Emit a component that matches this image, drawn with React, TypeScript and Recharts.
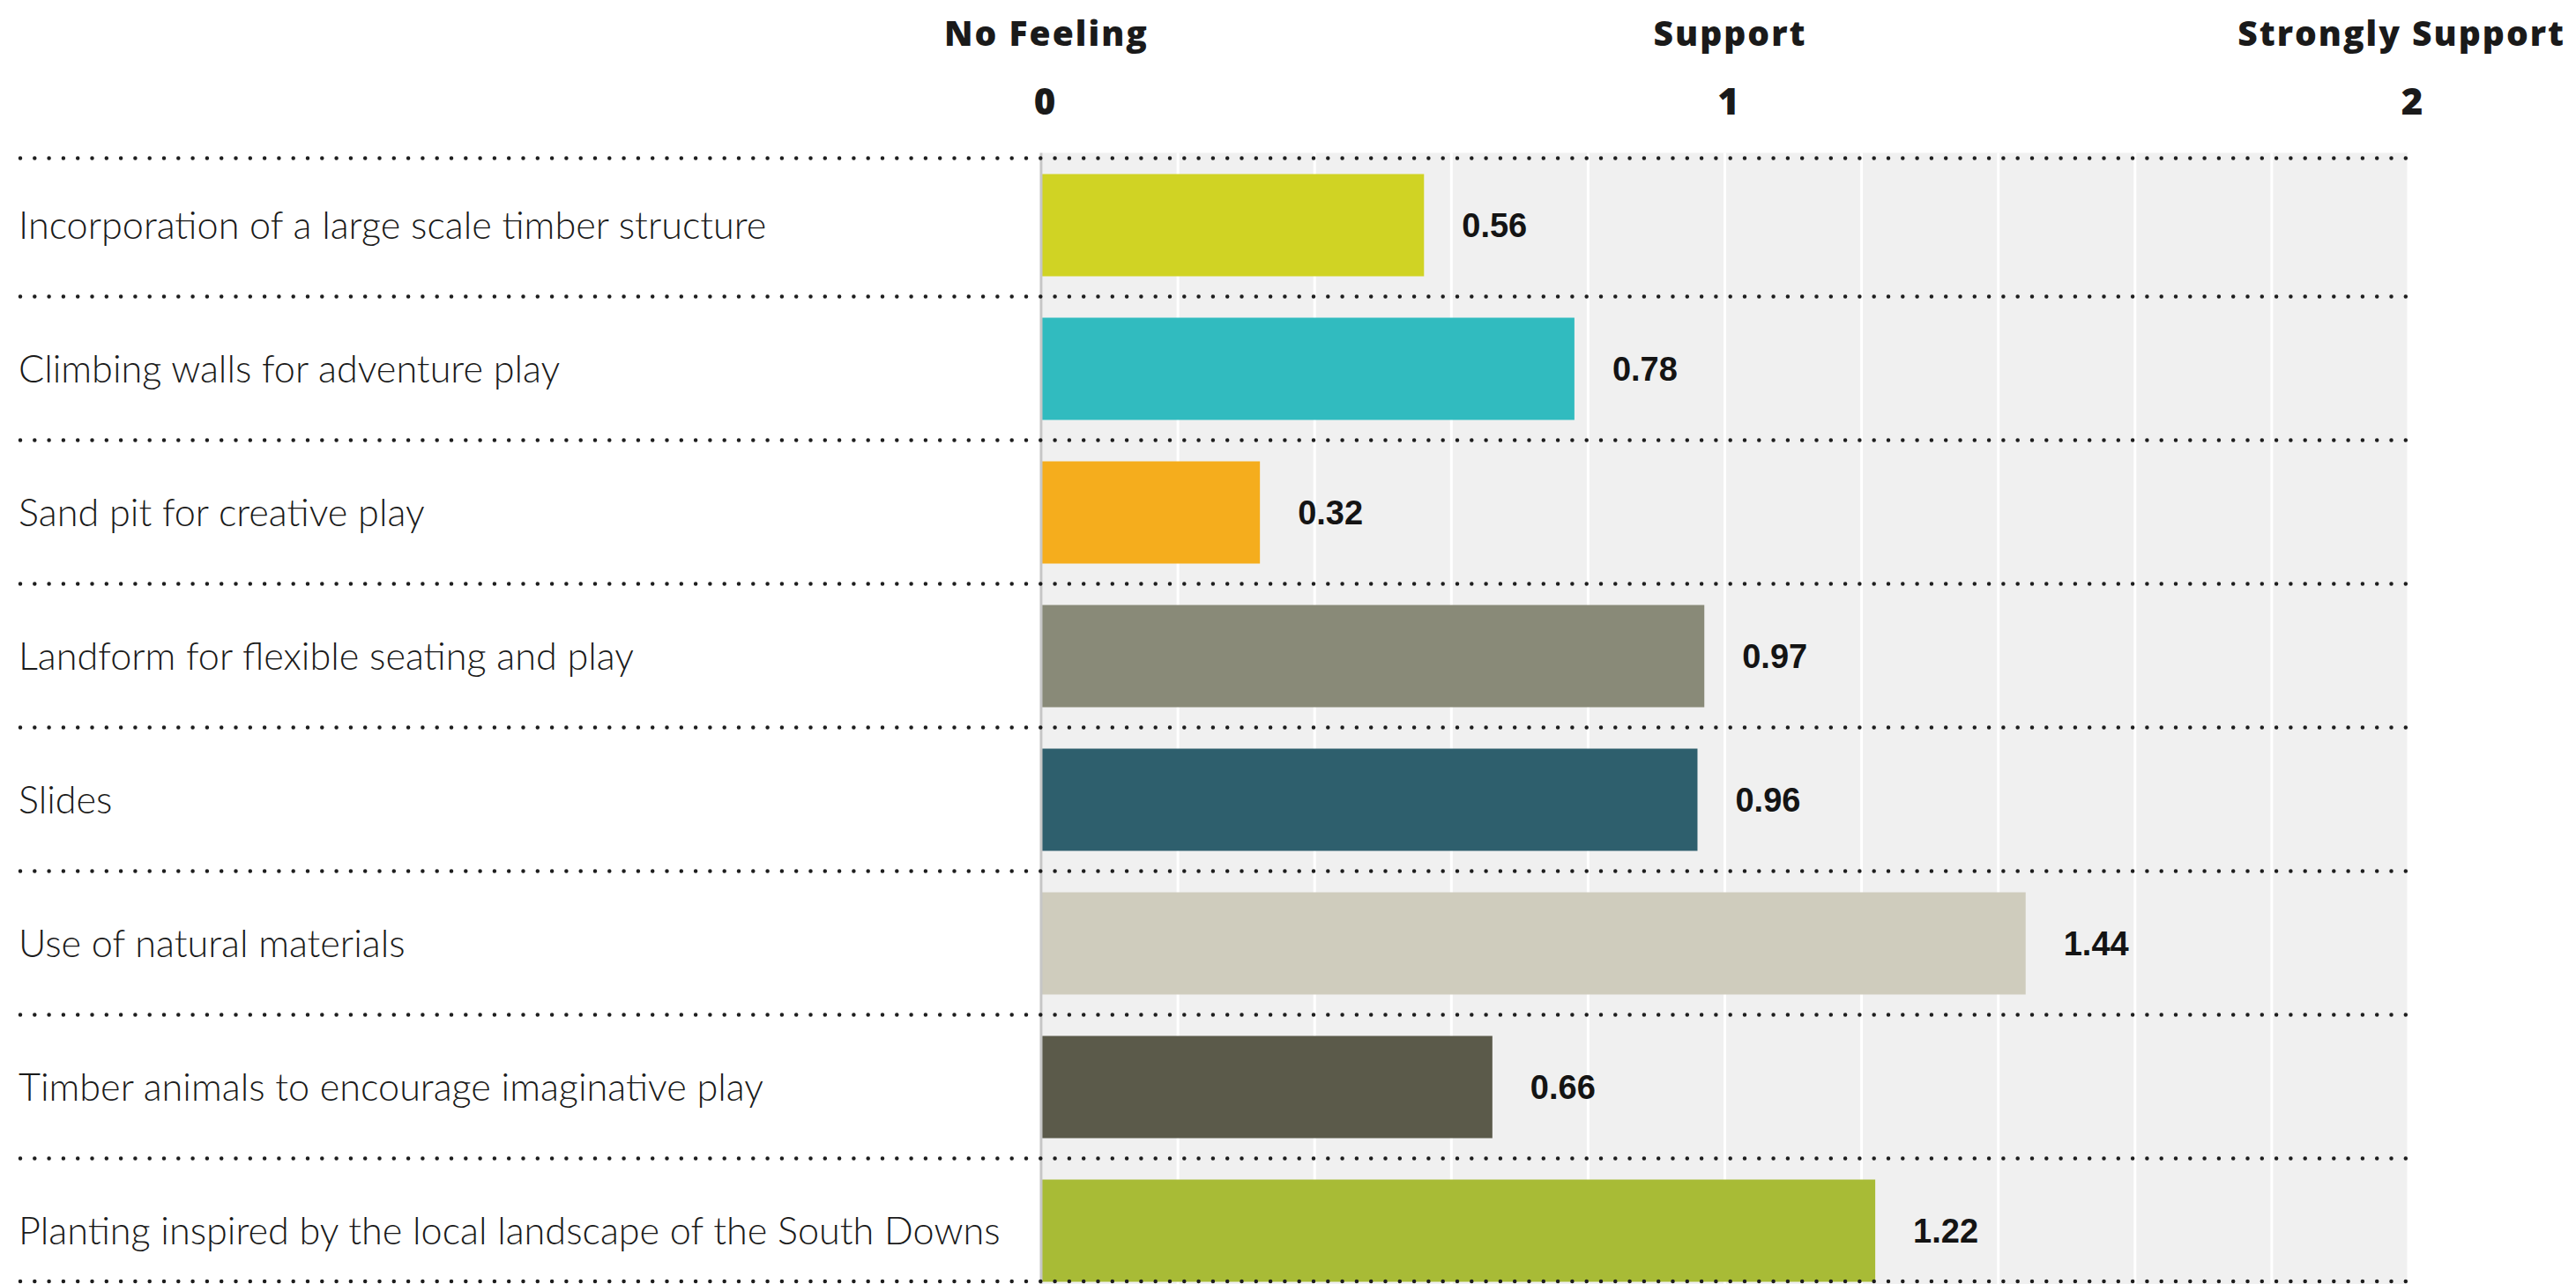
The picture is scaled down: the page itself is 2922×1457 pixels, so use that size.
import React from 'react';
import { BarChart, Bar, XAxis, YAxis, CartesianGrid, LabelList, Cell } from 'recharts';

const categories = [
  'Incorporation of a large scale timber structure',
  'Climbing walls for adventure play',
  'Sand pit for creative play',
  'Landform for flexible seating and play',
  'Slides',
  'Use of natural materials',
  'Timber animals to encourage imaginative play',
  'Planting inspired by the local landscape of the South Downs',
];
const values = [0.56, 0.78, 0.32, 0.97, 0.96, 1.44, 0.66, 1.22];
const barColors = ['#d0d324', '#31bbbf', '#f5ad1d', '#898a78', '#2e5f6d', '#cfccbd', '#5b5a4a', '#a8bb36'];
const gridTicks = [0, 0.2, 0.4, 0.6, 0.8, 1, 1.2, 1.4, 1.6, 1.8, 2];
const scaleValues = [0, 1, 2];
const scaleNames = ['No Feeling', 'Support', 'Strongly Support'];

const data = categories.map((name, i) => ({ name, value: values[i] }));

const CHART_W = 2914;
const CHART_H = 1520;
const MARGIN = { top: 0, right: 190, bottom: 50.5, left: 0 };
const X_AXIS_H = 165.5;
const Y_AXIS_W = 1173;
const BAR_SIZE = 116;
const LABEL_LEFT = 15;
const PLOT_RIGHT = CHART_W - MARGIN.right;
const PLOT_H = CHART_H - MARGIN.top - MARGIN.bottom - X_AXIS_H;
const BAND = PLOT_H / categories.length;

const DOT_STYLE = {
  stroke: '#1e1e1e',
  strokeWidth: 4.5,
  strokeLinecap: 'round' as const,
  strokeDasharray: '0 16.3',
};

const YTick = (props: any) => {
  const { y, payload, index } = props;
  const top = index === 0 ? y - BAND / 2 + 6 : y - BAND / 2;
  const isLast = index === categories.length - 1;
  return (
    <g>
      <line x1={LABEL_LEFT} x2={PLOT_RIGHT} y1={top} y2={top} {...DOT_STYLE} />
      {isLast && (
        <line x1={LABEL_LEFT} x2={PLOT_RIGHT} y1={y + BAR_SIZE / 2} y2={y + BAR_SIZE / 2} {...DOT_STYLE} />
      )}
      <text
        x={LABEL_LEFT - 2}
        y={y + 16}
        fontFamily="Lato"
        fontWeight={300}
        fontSize={43.2}
        fill="#1a1a1a"
      >
        {payload.value}
      </text>
    </g>
  );
};

const XTick = (props: any) => {
  const { x, y, payload } = props;
  const i = scaleValues.indexOf(payload.value);
  if (i < 0) return <g />;
  const isLast = i === scaleValues.length - 1;
  return (
    <g>
      <text
        x={isLast ? x + 178 : x + 6}
        y={y - 122}
        textAnchor={isLast ? 'end' : 'middle'}
        fontFamily="Open Sans"
        fontWeight={800}
        fontSize={39}
        letterSpacing={2}
        fill="#1a1a1a"
      >
        {scaleNames[i]}
      </text>
      <text x={x + 4} y={y - 44} textAnchor="middle" fontFamily="Open Sans" fontWeight={800} fontSize={42} fill="#1a1a1a">
        {payload.value}
      </text>
    </g>
  );
};

export default function App() {
  return (
    <div style={{ width: CHART_W, height: 1449, overflow: 'hidden' }}>
      <BarChart
        width={CHART_W}
        height={CHART_H}
        data={data}
        layout="vertical"
        margin={MARGIN}
        barCategoryGap={0}
      >
        <CartesianGrid
          horizontal={false}
          vertical={true}
          stroke="#ffffff"
          strokeWidth={3}
          fill="#f0f0f0"
          fillOpacity={1}
        />
        <XAxis
          type="number"
          orientation="top"
          domain={[0, 2]}
          ticks={gridTicks}
          height={X_AXIS_H}
          axisLine={false}
          tickLine={false}
          tickSize={0}
          tickMargin={0}
          tick={<XTick />}
          interval={0}
        />
        <YAxis
          type="category"
          dataKey="name"
          width={Y_AXIS_W}
          axisLine={{ stroke: '#c6c6c6', strokeWidth: 3 }}
          tickLine={false}
          tickSize={0}
          tickMargin={0}
          tick={<YTick />}
          interval={0}
        />
        <Bar dataKey="value" barSize={BAR_SIZE} isAnimationActive={false}>
          {data.map((d, i) => (
            <Cell key={d.name} fill={barColors[i]} />
          ))}
          <LabelList
            dataKey="value"
            position="right"
            offset={43}
            formatter={(v: any) => Number(v).toFixed(2)}
            style={{ fontFamily: 'Liberation Sans', fontWeight: 700, fontSize: 38, fill: '#141414' }}
          />
        </Bar>
      </BarChart>
    </div>
  );
}
